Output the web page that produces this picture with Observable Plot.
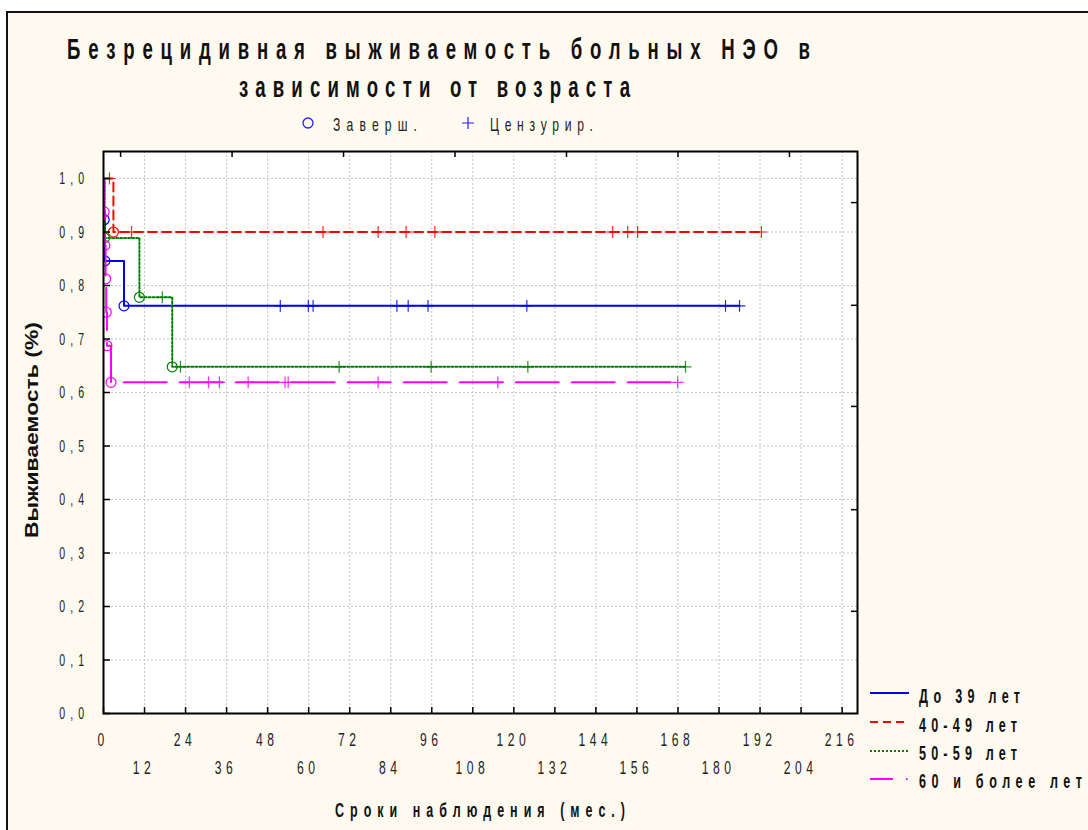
<!DOCTYPE html>
<html>
<head>
<meta charset="utf-8">
<script src="https://cdn.jsdelivr.net/npm/d3@7"></script>
<script src="https://cdn.jsdelivr.net/npm/@observablehq/plot@0.6"></script>
<style>
  body { margin: 0; background: #fff; }
  #page { position: relative; width: 1088px; height: 830px; overflow: hidden; background: #fff; }
  #panel { position: absolute; left: 6px; top: 11px; width: 1100px; height: 840px;
           border: 2px solid #111; background: #fffaf0; }
  #chart { position: absolute; left: 0; top: 0; }
</style>
</head>
<body>
<div id="page"><div id="panel"></div><div id="chart"></div></div>
<script>
// ---- Kaplan–Meier data: survival after each event and censoring times (months)
const groups = ["До 39 лет", "40-49 лет", "50-59 лет", "60 и более лет"];
const colors = ["#0000ee", "#ff0000", "#008000", "#ff00ff"];
const dashes = [null, "9,5", "2,2", "43,13"];

const eventTimes = [
  [0.2, 0.4, 6.0],
  [2.9],
  [0.3, 10.5, 20.1],
  [0.2, 0.4, 0.6, 0.8, 1.0, 2.2]
];
const eventSurv = [
  [0.923, 0.846, 0.762],
  [0.900],
  [0.889, 0.778, 0.648],
  [0.9375, 0.875, 0.8125, 0.75, 0.6875, 0.619]
];
const censorTimes = [
  [51.7, 59.9, 61.3, 85.8, 89.1, 94.9, 123.8, 181.9, 186.0],
  [1.75, 8.2, 64.2, 80.3, 88.5, 96.9, 148.9, 153.3, 156.2, 192.4],
  [17.2, 22.5, 68.9, 95.8, 124.1, 170.2],
  [25.1, 30.7, 33.9, 42.3, 53.1, 54.0, 80.3, 115.3, 167.9]
];

// ---- axes
const xTicks = [0, 12, 24, 36, 48, 60, 72, 84, 96, 108, 120, 132, 144, 156, 168, 180, 192, 204, 216];
const xTickLabels = ["0", "12", "24", "36", "48", "60", "72", "84", "96", "108", "120", "132", "144", "156", "168", "180", "192", "204", "216"];
const yTicks = [0, 0.1, 0.2, 0.3, 0.4, 0.5, 0.6, 0.7, 0.8, 0.9, 1.0];
const yTickLabels = ["0,0", "0,1", "0,2", "0,3", "0,4", "0,5", "0,6", "0,7", "0,8", "0,9", "1,0"];
const rightTicks = [0.191, 0.381, 0.574, 0.763, 0.955];
const topTicks = [5.0, 37.6, 70.2, 102.8, 135.4, 168.0, 200.6];

const titleLines = ["Безрецидивная выживаемость больных НЭО в", "зависимости от возраста"];
const markerLegend = ["Заверш.", "Цензурир."];
const xTitle = "Сроки наблюдения (мес.)";
const yTitle = "Выживаемость (%)";

// ---- derived tables
const survAt = (g, t) => {
  let s = 1;
  eventTimes[g].forEach((et, i) => { if (et <= t) s = eventSurv[g][i]; });
  return s;
};
const curves = groups.map((name, g) => {
  const pts = [{t: 0, s: 1}];
  eventTimes[g].forEach((t, i) => pts.push({t, s: eventSurv[g][i]}));
  const last = d3.max(censorTimes[g]);
  pts.push({t: last, s: survAt(g, last)});
  return pts;
});
const events = groups.map((name, g) => eventTimes[g].map((t, i) => ({t, s: eventSurv[g][i]})));
const censors = groups.map((name, g) => censorTimes[g].map(t => ({t, s: survAt(g, t)})));

const W = 1088, H = 830, ML = 103, MR = 231, MT = 151, MB = 117;
const PW = W - ML - MR, PH = H - MT - MB;
const FONT = "'Liberation Sans', Arial, sans-serif";

const seriesMarks = groups.flatMap((name, g) => [
  Plot.line(curves[g], {x: "t", y: "s", curve: "step-after", stroke: colors[g], strokeWidth: 2,
    strokeDasharray: dashes[g], clip: true}),
  Plot.dot(events[g], {x: "t", y: "s", r: 5, stroke: colors[g], fill: "none", strokeWidth: 1.2, clip: true}),
  Plot.dot(censors[g], {x: "t", y: "s", symbol: "plus", r: 3.9, stroke: colors[g], strokeWidth: 1.2, strokeOpacity: 0.85})
]);

const plot = Plot.plot({
  width: W, height: H,
  marginLeft: ML, marginRight: MR, marginTop: MT, marginBottom: MB,
  style: {background: "transparent", fontFamily: FONT, overflow: "visible"},
  x: {domain: [0, 220.5], axis: null},
  y: {domain: [0, 1.0505], axis: null},
  marks: [
    Plot.frame({fill: "white", stroke: "none"}),
    Plot.ruleX(xTicks.slice(1), {stroke: "#c4c4c4", strokeDasharray: "2,2", strokeWidth: 1}),
    Plot.ruleY(yTicks.slice(1), {stroke: "#c4c4c4", strokeDasharray: "2,2", strokeWidth: 1}),
    ...seriesMarks,
    Plot.frame({stroke: "#000", strokeWidth: 2}),
    Plot.tickX(xTicks, {x: d => d, insetTop: PH - 6, stroke: "#000", strokeWidth: 1.5}),
    Plot.tickX(topTicks, {x: d => d, insetBottom: PH - 6, stroke: "#000", strokeWidth: 1.5}),
    Plot.tickY(yTicks, {y: d => d, insetRight: PW - 7, stroke: "#000", strokeWidth: 1.5}),
    Plot.tickY(rightTicks, {y: d => d, insetLeft: PW - 6, stroke: "#000", strokeWidth: 1.5})
  ]
});
document.getElementById("chart").appendChild(plot);

const svg = d3.select(plot);
const xs = plot.scale("x"), ys = plot.scale("y");

// ---- narrow, letter-spaced tick labels placed with the plot's scales
const tickText = svg.append("g").attr("font-family", FONT).attr("fill", "#222");
function tickLabel(str, x, y, size, anchor, ls, sx = 0.64) {
  tickText.append("text")
    .attr("transform", `translate(${x},${y}) scale(${sx},1)`)
    .attr("font-size", size).attr("text-anchor", anchor)
    .style("letter-spacing", `${ls}px`).text(str);
}
yTicks.forEach((v, i) => tickLabel(yTickLabels[i], ML - 14, ys.apply(v) + 6, 16.5, "end", 7.8));
xTicks.forEach((v, i) => tickLabel(xTickLabels[i], xs.apply(v), i % 2 === 0 ? 746 : 774, 19, "middle", 7));

// ---- titles and legends
const ann = svg.append("g").attr("font-family", FONT);
function label(str, {x, y, size, weight = "normal", sx = 0.64, width, rotate = 0, anchor = "start", fill = "#111", adjust = "spacing"}) {
  const t = ann.append("text")
    .attr("transform", rotate ? `translate(${x},${y}) rotate(${rotate})` : `translate(${x},${y}) scale(${sx},1)`)
    .attr("font-size", size).attr("font-weight", weight).attr("fill", fill)
    .attr("text-anchor", anchor).text(str);
  if (width) t.attr("textLength", rotate ? width : width / sx).attr("lengthAdjust", adjust);
  return t;
}
label(titleLines[0], {x: 67, y: 59, size: 30, weight: "bold", sx: 0.62, width: 743});
label(titleLines[1], {x: 239, y: 97, size: 30, weight: "bold", sx: 0.62, width: 391});

// marker key
ann.append("circle").attr("cx", 308).attr("cy", 123).attr("r", 5)
  .attr("fill", "none").attr("stroke", "#2222ff").attr("stroke-width", 1.3);
ann.append("path").attr("d", "M462,123H474M468,117V129").attr("stroke", "#2222ff").attr("stroke-width", 1.2);
label(markerLegend[0], {x: 333, y: 131, size: 19, width: 84, fill: "#222"});
label(markerLegend[1], {x: 490, y: 131, size: 19, width: 103, fill: "#222"});

// axis titles
label(xTitle, {x: 335, y: 817, size: 19.5, weight: "bold", width: 290});
label(yTitle, {x: 38, y: 430, size: 18, weight: "bold", rotate: -90, anchor: "middle", width: 216, adjust: "spacingAndGlyphs"});

// series key
const keyY = [693, 722, 751, 779];
const keyText = [703, 732, 760, 788];
const keyWidth = [101, 98, 98, 163];
const keyDash = [null, "8,5", "2,2", "23,13,1.5,10"];
groups.forEach((name, g) => {
  ann.append("line").attr("x1", 870).attr("x2", 909).attr("y1", keyY[g]).attr("y2", keyY[g])
    .attr("stroke", colors[g]).attr("stroke-width", 2).attr("stroke-dasharray", keyDash[g]);
  label(name, {x: 919, y: keyText[g], size: 21, weight: "bold", sx: 0.6, width: keyWidth[g]});
});
</script>
</body>
</html>
